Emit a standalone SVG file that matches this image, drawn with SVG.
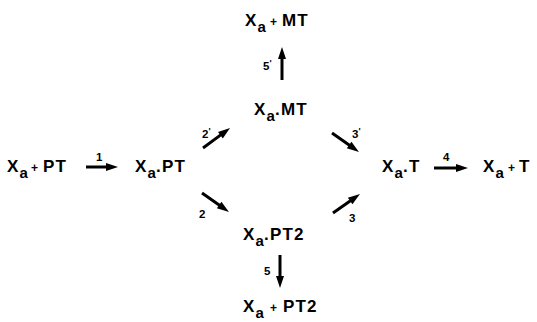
<svg xmlns="http://www.w3.org/2000/svg" width="537" height="322" viewBox="0 0 537 322">
  <style>
    text { font-family: "Liberation Sans", Arial, sans-serif; font-weight: bold; fill: #000; }
    .t { font-size: 17px; letter-spacing: 1.2px; }
    .s { font-size: 15px; letter-spacing: 0; }
    .p { font-size: 12px; letter-spacing: 0; }
    .lbl { font-size: 11.5px; }
    .pr { font-size: 9px; }
    .arr { stroke: #000; stroke-width: 3; fill: none; marker-end: url(#head); }
  </style>
  <defs>
    <marker id="head" markerUnits="userSpaceOnUse" markerWidth="12" markerHeight="8" refX="3" refY="4" orient="auto" overflow="visible">
      <path d="M0,0 L12,4 L0,8 z" fill="#000"/>
    </marker>
  </defs>
  <rect width="537" height="322" fill="#fff"/>

  <!-- species -->
  <g id="xa-pt">
    <text class="t"><tspan x="7" y="172">X</tspan><tspan class="s" x="19.5" y="178">a</tspan><tspan class="p" x="31" y="172">+</tspan><tspan x="43" y="172">PT</tspan></text>
  </g>
  <g id="xa-pt-complex">
    <text class="t"><tspan x="135" y="172">X</tspan><tspan class="s" x="147.5" y="178">a</tspan><tspan x="156" y="172">.PT</tspan></text>
  </g>
  <g id="xa-mt-complex">
    <text class="t"><tspan x="254" y="115">X</tspan><tspan class="s" x="266.5" y="121">a</tspan><tspan x="275" y="115">.MT</tspan></text>
  </g>
  <g id="xa-mt">
    <text class="t"><tspan x="245" y="26">X</tspan><tspan class="s" x="257.5" y="32">a</tspan><tspan class="p" x="270" y="26">+</tspan><tspan x="282" y="26">MT</tspan></text>
  </g>
  <g id="xa-pt2-complex">
    <text class="t"><tspan x="243" y="240">X</tspan><tspan class="s" x="255.5" y="246">a</tspan><tspan x="264" y="240">.PT2</tspan></text>
  </g>
  <g id="xa-pt2">
    <text class="t"><tspan x="243" y="312">X</tspan><tspan class="s" x="255.5" y="318">a</tspan><tspan class="p" x="270" y="312">+</tspan><tspan x="283" y="312">PT2</tspan></text>
  </g>
  <g id="xa-t-complex">
    <text class="t"><tspan x="382" y="172">X</tspan><tspan class="s" x="394.5" y="178">a</tspan><tspan x="403" y="172">.T</tspan></text>
  </g>
  <g id="xa-t">
    <text class="t"><tspan x="483" y="172">X</tspan><tspan class="s" x="495.5" y="178">a</tspan><tspan class="p" x="508" y="172">+</tspan><tspan x="519" y="172">T</tspan></text>
  </g>

  <!-- reaction steps -->
  <g id="connectors">
    <line class="arr" x1="86" y1="167" x2="109" y2="167"/>
    <line class="arr" x1="203" y1="148" x2="222.8" y2="133.4"/>
    <line class="arr" x1="202" y1="193" x2="221.6" y2="206.8"/>
    <line class="arr" x1="332" y1="133" x2="351.6" y2="146.8"/>
    <line class="arr" x1="333" y1="213" x2="352.6" y2="199.2"/>
    <line class="arr" x1="434" y1="168" x2="459" y2="168"/>
    <line class="arr" x1="282" y1="80" x2="282" y2="56"/>
    <line class="arr" x1="280" y1="255" x2="280" y2="279"/>

    <text class="lbl" x="96" y="161">1</text>
    <text class="lbl" x="443" y="161">4</text>
    <text class="lbl" x="202" y="138">2<tspan class="pr" dy="-4">'</tspan></text>
    <text class="lbl" x="199" y="218">2</text>
    <text class="lbl" x="352" y="138">3<tspan class="pr" dy="-4">'</tspan></text>
    <text class="lbl" x="349" y="222">3</text>
    <text class="lbl" x="263" y="70">5<tspan class="pr" dy="-4">'</tspan></text>
    <text class="lbl" x="264" y="275">5</text>
  </g>
</svg>
